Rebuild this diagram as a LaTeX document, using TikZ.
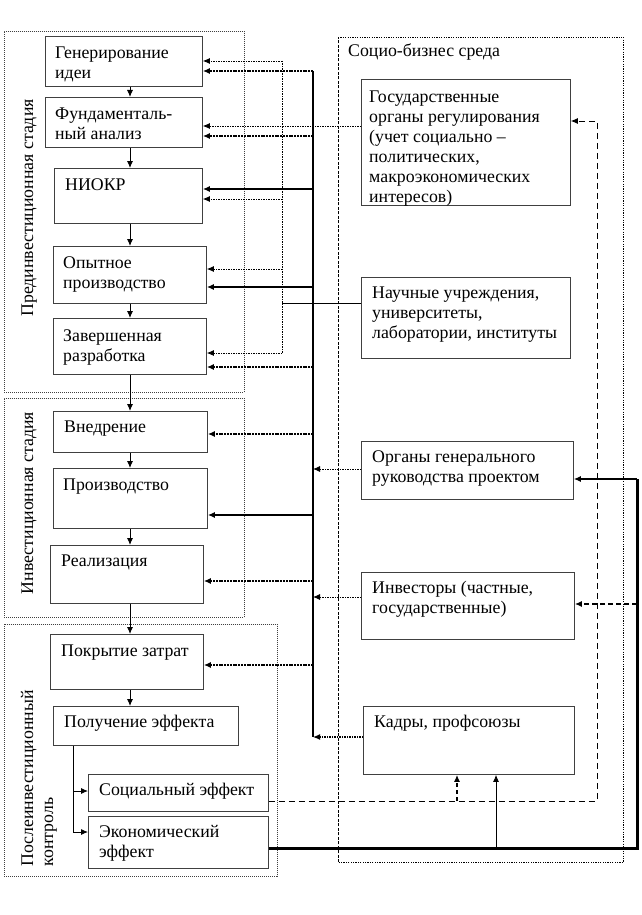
\documentclass[tikz,border=0pt]{standalone}
\usepackage{fontspec}
\setmainfont{Liberation Serif}
\usetikzlibrary{arrows.meta}
\newcommand\fs{\fontsize{17.8}{20}\selectfont}
\tikzset{
  tip/.tip={Latex[length=7pt,width=6pt]},
  boxn/.style={draw=black!75,line width=0.8pt,inner sep=0pt,anchor=north west},
  txt/.style={anchor=north west,inner sep=0pt,align=left,font=\fs},
  stageframe/.style={draw=black!75,line width=0.8pt,dash pattern=on 1pt off 1pt,inner sep=0pt,anchor=north west},
  chain/.style={line width=0.9pt,-tip},
  thinbus/.style={line width=0.9pt,dash pattern=on 1.5pt off 1pt},
  bus/.style={line width=2pt},
  busbr/.style={line width=1.6pt,-tip},
  busdot/.style={line width=1.6pt,dash pattern=on 2pt off 0.8pt,-tip},
  socdash/.style={line width=0.9pt,dash pattern=on 6pt off 4pt},
  heavy/.style={line width=3pt},
}
\begin{document}
\begin{tikzpicture}[x=1pt,y=-1pt]
\fill[white] (0,0) rectangle (642,915);
\useasboundingbox (0,0) rectangle (642,915);

% stage frames
\node[stageframe,minimum width=240,minimum height=361] (st1) at (4,31) {};
\node[stageframe,minimum width=240,minimum height=219] (st2) at (4,398) {};
\node[stageframe,minimum width=273,minimum height=252] (st3) at (4,624) {};
\node[rotate=90,anchor=base,font=\fs] (st1l) at (33,208) {Прединвестиционная стадия};
\node[rotate=90,anchor=base,font=\fs] (st2l) at (33,503) {Инвестиционная стадия};
\node[rotate=90,anchor=base west,font=\fs] (st3l) at (33,870) {Послеинвестиционный};
\node[rotate=90,anchor=base west,font=\fs] (st3m) at (53,870) {контроль};

% environment frame
\node[inner sep=0pt,anchor=north west,minimum width=285,minimum height=825] (env) at (338,37) {};
\draw[line width=0.9pt,dash pattern=on 1.2pt off 1.2pt] (env.north west) -- (env.north east) -- (env.south east) -- (env.south west);
\draw[line width=0.8pt,dash pattern=on 3pt off 1.5pt] (env.south west) -- (env.north west);
\node[anchor=base west,inner sep=0pt,font=\fs] (envl) at (348,57) {Социо-бизнес среда};

% left boxes
\node[boxn,minimum width=157,minimum height=50] (gen) at (45,36) {};
\node[boxn,minimum width=157,minimum height=50] (fund) at (45,97) {};
\node[boxn,minimum width=148,minimum height=55] (niokr) at (54,168) {};
\node[boxn,minimum width=153,minimum height=57] (opyt) at (53,246) {};
\node[boxn,minimum width=153,minimum height=56] (zav) at (53,318) {};
\node[boxn,minimum width=154,minimum height=41] (vned) at (53,411) {};
\node[boxn,minimum width=154,minimum height=60] (proiz) at (53,468) {};
\node[boxn,minimum width=153,minimum height=58] (real) at (50,545) {};
\node[boxn,minimum width=153,minimum height=55] (pokr) at (50,634) {};
\node[boxn,minimum width=185,minimum height=39] (pol) at (53,706) {};
\node[boxn,minimum width=180,minimum height=37] (soc) at (88,774) {};
\node[boxn,minimum width=180,minimum height=52] (eco) at (88,816) {};

% right boxes
\node[boxn,minimum width=209,minimum height=126] (gos) at (361,79) {};
\node[boxn,minimum width=209,minimum height=81] (nauch) at (361,277) {};
\node[boxn,minimum width=212,minimum height=58] (org) at (361,441) {};
\node[boxn,minimum width=213,minimum height=67] (inv) at (361,572) {};
\node[boxn,minimum width=211,minimum height=68] (kad) at (363,706) {};

% texts
\node[txt] (gent) at ([shift={(10,8)}]gen.north west) {\strut Генерирование\\идеи};
\node[txt] (fundt) at ([shift={(10,8)}]fund.north west) {\strut Фундаменталь-\\ный анализ};
\node[txt] (niokrt) at ([shift={(11,8)}]niokr.north west) {\strut НИОКР};
\node[txt] (opytt) at ([shift={(10,8)}]opyt.north west) {\strut Опытное\\производство};
\node[txt] (zavt) at ([shift={(10,9)}]zav.north west) {\strut Завершенная\\разработка};
\node[txt] (vnedt) at ([shift={(11,7)}]vned.north west) {\strut Внедрение};
\node[txt] (proizt) at ([shift={(10,8)}]proiz.north west) {\strut Производство};
\node[txt] (realt) at ([shift={(11,7)}]real.north west) {\strut Реализация};
\node[txt] (pokrt) at ([shift={(11,8)}]pokr.north west) {\strut Покрытие затрат};
\node[txt] (polt) at ([shift={(11,7)}]pol.north west) {\strut Получение эффекта};
\node[txt] (soct) at ([shift={(11,7)}]soc.north west) {\strut Социальный эффект};
\node[txt] (ecot) at ([shift={(11,7)}]eco.north west) {\strut Экономический\\эффект};
\node[txt] (gost) at ([shift={(8,9)}]gos.north west) {\strut Государственные\\органы регулирования\\(учет социально –\\политических,\\макроэкономических\\интересов)};
\node[txt] (naucht) at ([shift={(11,7)}]nauch.north west) {\strut Научные учреждения,\\университеты,\\лаборатории, институты};
\node[txt] (orgt) at ([shift={(11,7)}]org.north west) {\strut Органы генерального\\руководства проектом};
\node[txt] (invt) at ([shift={(11,7)}]inv.north west) {\strut Инвесторы (частные,\\государственные)};
\node[txt] (kadt) at ([shift={(11,7)}]kad.north west) {\strut Кадры, профсоюзы};

% chain arrows
\coordinate (cx) at (130,0);
\draw[chain] (gen.south -| cx) -- (fund.north -| cx);
\draw[chain] (fund.south -| cx) -- (niokr.north -| cx);
\draw[chain] (niokr.south -| cx) -- (opyt.north -| cx);
\draw[chain] (opyt.south -| cx) -- (zav.north -| cx);
\draw[chain] (zav.south -| cx) -- (vned.north -| cx);
\draw[chain] (vned.south -| cx) -- (proiz.north -| cx);
\draw[chain] (proiz.south -| cx) -- (real.north -| cx);
\draw[chain] (real.south -| cx) -- (pokr.north -| cx);
\draw[chain] (pokr.south -| cx) -- (pol.north -| cx);

% effect branches
\coordinate (ex1) at (73,791);
\coordinate (ex2) at (73,832);
\draw[line width=0.9pt] (pol.south -| ex1) -- (ex2);
\draw[chain] (ex1) -- (soc.west |- ex1);
\draw[chain] (ex2) -- (eco.west |- ex2);

% thin dotted vertical
\coordinate (tv1) at (282,61);
\coordinate (tv2) at (282,199);
\coordinate (tv3) at (282,269);
\coordinate (tv4) at (282,353);
\coordinate (tvn) at (282,303);
\draw[thinbus] (tv1) -- (tv4);
\draw[thinbus,-tip] (tv1) -- (gen.east |- tv1);
\draw[thinbus,-tip] (tv2) -- (niokr.east |- tv2);
\draw[thinbus,-tip] (tv3) -- (opyt.east |- tv3);
\draw[thinbus,-tip] (tv4) -- (zav.east |- tv4);
\draw[line width=0.8pt] (nauch.west |- tvn) -- (tvn);

% state bodies line
\coordinate (gy) at (300,126);
\draw[thinbus,-tip] (gos.west |- gy) -- (fund.east |- gy);

% thick bus
\coordinate (bg) at (313,71);
\coordinate (bf) at (313,136);
\coordinate (bn) at (313,189);
\coordinate (bo) at (313,287);
\coordinate (bz) at (313,367);
\coordinate (bv) at (313,434);
\coordinate (bp) at (313,515);
\coordinate (br) at (313,581);
\coordinate (bc) at (313,665);
\coordinate (bk) at (313,737);
\coordinate (borg) at (313,469);
\coordinate (binv) at (313,597);
\draw[bus] (bg) -- (bk);
\draw[busdot] (bg) -- (gen.east |- bg);
\draw[busdot] (bf) -- (fund.east |- bf);
\draw[busbr] (bn) -- (niokr.east |- bn);
\draw[busbr] (bo) -- (opyt.east |- bo);
\draw[busdot] (bz) -- (zav.east |- bz);
\draw[busdot] (bv) -- (vned.east |- bv);
\draw[busbr] (bp) -- (proiz.east |- bp);
\draw[busdot] (br) -- (real.east |- br);
\draw[busdot] (bc) -- (pokr.east |- bc);
\draw[thinbus,-tip] (org.west |- borg) -- (borg);
\draw[thinbus,-tip] (inv.west |- binv) -- (binv);
\draw[line width=1.2pt,dash pattern=on 1.5pt off 1pt,-tip] (kad.west |- bk) -- (bk);

% social effect feedback (dashed)
\coordinate (sd1) at (597,801);
\coordinate (sdt) at (597,121);
\coordinate (sdk) at (457,801);
\draw[socdash,-tip] (soc.east |- sd1) -- (sd1) -- (sdt) -- (gos.east |- sdt);
\draw[line width=1.5pt,dash pattern=on 4pt off 3pt,-tip] (sdk) -- (kad.south -| sdk);

% economic effect feedback (heavy)
\coordinate (ec1) at (637,848);
\coordinate (ec2) at (637,479);
\coordinate (eci) at (637,604);
\coordinate (eck) at (496,848);
\draw[heavy] (eco.east |- ec1) -- (ec1) -- (ec2);
\draw[line width=1.2pt,-tip] (ec2) -- (org.east |- ec2);
\draw[line width=1.8pt,dash pattern=on 5pt off 3pt,-tip] (eci) -- (inv.east |- eci);
\draw[line width=0.9pt,-tip] (eck) -- (kad.south -| eck);
\end{tikzpicture}
\end{document}
